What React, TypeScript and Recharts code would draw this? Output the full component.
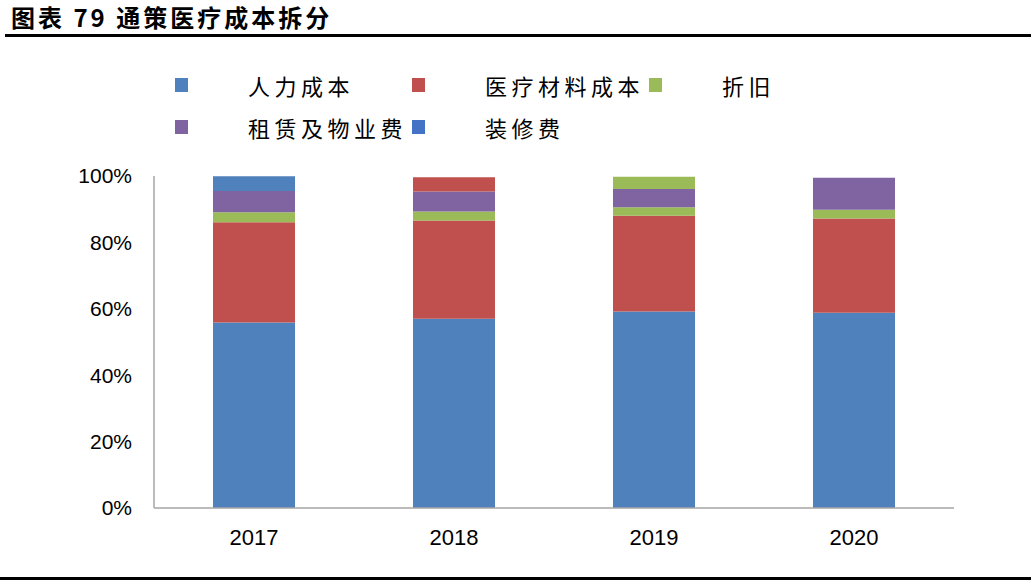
import React from 'react';
import { BarChart, Bar, XAxis, YAxis, Cell } from 'recharts';

const years = ['2017', '2018', '2019', '2020'];
const labor = [0.559, 0.570, 0.592, 0.588];
const material = [0.302, 0.296, 0.288, 0.284];
const depreciation = [0.030, 0.027, 0.026, 0.026];
const rent = [0.064, 0.060, 0.055, 0.097];
const renovation = [0.044, 0.043, 0.037, 0];
const yTicks = [0, 0.2, 0.4, 0.6, 0.8, 1.0];

const seriesNames = ['人力成本', '医疗材料成本', '折旧', '租赁及物业费', '装修费'];
const seriesKeys = ['labor', 'material', 'depreciation', 'rent', 'renovation'];
const seriesColors = ['#4F81BD', '#C0504D', '#9BBB59', '#8064A2', '#4472C4'];
const renovationBarColors = ['#4F81BD', '#C0504D', '#9BBB59', '#4F81BD'];

const data = years.map((y, i) => ({
  year: y,
  labor: labor[i],
  material: material[i],
  depreciation: depreciation[i],
  rent: rent[i],
  renovation: renovation[i],
}));

const numFont = '"Liberation Sans", Arial, sans-serif';
const cjkFont = '"Noto Sans CJK SC", sans-serif';

export default function App() {
  return (
    <div style={{ position: 'absolute', left: 0, top: 0, width: 1031, height: 583, background: '#fff', overflow: 'hidden' }}>
      <div style={{ position: 'absolute', left: 11, top: 3, fontFamily: cjkFont, fontWeight: 700, fontSize: 24, letterSpacing: 3, color: '#000', whiteSpace: 'nowrap', lineHeight: '27px' }}>
        图表 79 通策医疗成本拆分
      </div>
      <div style={{ position: 'absolute', left: 5, top: 34, width: 1026, height: 3, background: '#000' }} />
      <div style={{ position: 'absolute', left: 0, top: 577, width: 1031, height: 3, background: '#000' }} />
      {seriesNames.map((name, i) => {
        const col = i % 3;
        const row = Math.floor(i / 3);
        const mx = 175 + col * 237;
        const cy = 85 + row * 42;
        return (
          <React.Fragment key={name}>
            <div style={{ position: 'absolute', left: mx, top: cy - 7, width: 13, height: 14, background: seriesColors[i] }} />
            <div style={{ position: 'absolute', left: mx + 73, top: cy - 16, fontFamily: cjkFont, fontSize: 22, letterSpacing: 4.5, lineHeight: '32px', color: '#000', whiteSpace: 'nowrap' }}>
              {name}
            </div>
          </React.Fragment>
        );
      })}
      <BarChart
        width={1031}
        height={583}
        data={data}
        margin={{ top: 176, right: 77, bottom: 35, left: 0 }}
        barSize={82}
      >
        <XAxis
          dataKey="year"
          height={40}
          tickLine={false}
          tickSize={0}
          tickMargin={21}
          axisLine={{ stroke: '#A6A6A6', strokeWidth: 1.5 }}
          tick={{ fill: '#000', fontSize: 22, fontFamily: numFont }}
        />
        <YAxis
          width={154}
          domain={[0, 1]}
          ticks={yTicks}
          allowDataOverflow
          tickLine={false}
          tickSize={0}
          tickMargin={22}
          axisLine={{ stroke: '#A6A6A6', strokeWidth: 1.5 }}
          tickFormatter={(v: number) => `${Math.round(v * 100)}%`}
          tick={{ fill: '#000', fontSize: 21, fontFamily: numFont }}
        />
        {seriesKeys.map((k, i) => (
          <Bar key={k} dataKey={k} name={seriesNames[i]} stackId="a" fill={seriesColors[i]} isAnimationActive={false}>
            {k === 'renovation'
              ? data.map((d, j) => <Cell key={d.year} fill={renovationBarColors[j]} />)
              : null}
          </Bar>
        ))}
      </BarChart>
    </div>
  );
}
